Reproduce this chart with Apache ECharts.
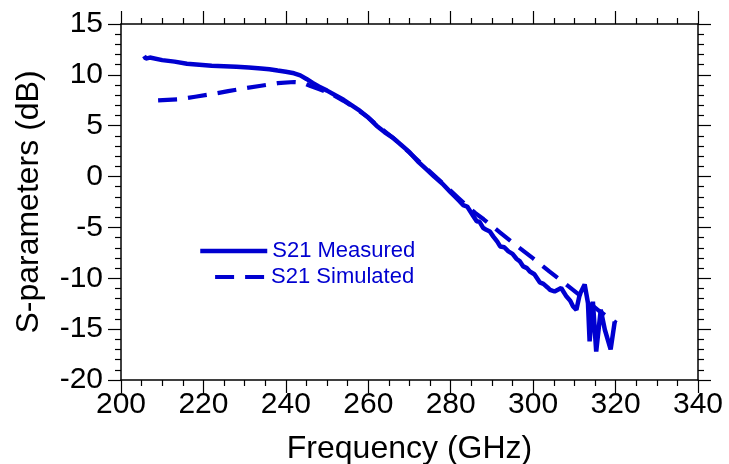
<!DOCTYPE html>
<html>
<head>
<meta charset="utf-8">
<script src="https://cdn.jsdelivr.net/npm/echarts@6/dist/echarts.min.js"></script>
<style>html,body{margin:0;padding:0;background:#fff;}#c{width:729px;height:464px;}</style>
</head>
<body>
<div id="c"></div>
<script>
var xTicks = [200, 220, 240, 260, 280, 300, 320, 340];
var yTicks = [-20, -15, -10, -5, 0, 5, 10, 15];

var measuredFreq = [205.6, 206.0, 207, 210, 213, 216, 219, 222, 225, 228, 231, 234, 236, 238, 240, 242, 243.5, 245, 246.5, 248, 250, 252, 254, 256, 258, 260, 262, 264, 266, 268, 270, 272, 274, 276, 278, 280, 281, 282.2, 283, 284, 285.5, 286.3, 287, 287.9, 288.5, 289.5, 290.3, 291.3, 292, 293, 294, 295, 296, 296.8, 297.6, 298.5, 299.2, 300.3, 301.6, 302.5, 303.5, 304.1, 305.2, 306.8, 308.1, 309, 309.7, 310.5, 311.3, 312.5, 313.3, 313.7, 314.5, 315.3, 316.4, 317.4, 318.8, 319.8];
var measuredS21 = [11.85, 11.6, 11.7, 11.45, 11.3, 11.1, 11.0, 10.9, 10.85, 10.8, 10.72, 10.62, 10.55, 10.42, 10.3, 10.15, 9.95, 9.6, 9.2, 8.85, 8.45, 8.0, 7.55, 7.0, 6.45, 5.8, 5.0, 4.35, 3.8, 3.1, 2.4, 1.5, 0.75, 0.0, -0.7, -1.55, -1.95, -2.44, -2.8, -2.95, -3.9, -4.4, -4.45, -5.06, -5.2, -5.4, -5.88, -6.4, -6.87, -6.95, -7.36, -7.6, -8.1, -8.34, -8.83, -9.0, -9.33, -9.6, -10.4, -10.55, -10.9, -11.13, -11.3, -10.96, -11.8, -12.2, -12.77, -13.1, -11.6, -10.6, -12.43, -16.2, -12.3, -17.2, -13.1, -15.06, -17.0, -14.25];

var simulatedFreq = [209, 214, 218, 222, 226, 230, 234, 238, 242, 244, 246, 248, 250, 252, 254, 256, 258, 260, 262, 264, 266, 268, 270, 272, 274, 276, 278, 280, 282, 284, 286, 288, 292, 296, 300, 304, 308, 312, 316, 320.2];
var simulatedS21 = [7.5, 7.6, 7.85, 8.1, 8.4, 8.68, 8.93, 9.18, 9.3, 9.25, 8.9, 8.6, 8.3, 7.9, 7.45, 6.95, 6.4, 5.8, 5.1, 4.45, 3.8, 3.1, 2.35, 1.6, 0.85, 0.1, -0.65, -1.4, -2.15, -2.9, -3.6, -4.2, -5.5, -6.8, -8.05, -9.35, -10.6, -11.9, -13.2, -14.4];

function zip(a, b) { return a.map(function (v, i) { return [v, b[i]]; }); }

var BLUE = '#0000d0';
var FONT = '"Liberation Sans", Arial, sans-serif';

var axisCommon = {
  axisLine: { show: true, onZero: false, lineStyle: { color: '#000', width: 1.5 } },
  axisTick: { show: true, inside: false, length: 13, lineStyle: { color: '#000', width: 1.2 } },
  splitLine: { show: false },
  minorSplitLine: { show: false }
};

function xAxisDef(pos, labels) {
  return Object.assign({}, JSON.parse(JSON.stringify(axisCommon)), {
    type: 'value', position: pos, min: xTicks[0], max: xTicks[xTicks.length - 1], interval: 20,
    minorTick: { show: true, splitNumber: 4, length: 6, lineStyle: { color: '#000', width: 1.2 } },
    axisLabel: { show: labels, margin: 10, color: '#000', fontSize: 30, fontFamily: FONT },
    name: labels ? 'Frequency (GHz)' : '', nameLocation: 'middle', nameGap: 53,
    nameTextStyle: { color: '#000', fontSize: 32, fontFamily: FONT }
  });
}
function yAxisDef(pos, labels) {
  return Object.assign({}, JSON.parse(JSON.stringify(axisCommon)), {
    type: 'value', position: pos, min: yTicks[0], max: yTicks[yTicks.length - 1], interval: 5,
    minorTick: { show: true, splitNumber: 5, length: 6, lineStyle: { color: '#000', width: 1.2 } },
    axisLabel: { show: labels, margin: 18, color: '#000', fontSize: 30, fontFamily: FONT },
    name: labels ? 'S-parameters (dB)' : '', nameLocation: 'middle', nameGap: 76,
    nameTextStyle: { color: '#000', fontSize: 32, fontFamily: FONT }
  });
}

var legendCommon = {
  orient: 'vertical', padding: 0, itemHeight: 14,
  itemStyle: { opacity: 0 },
  lineStyle: { width: 4.5, color: BLUE },
  textStyle: { color: BLUE, fontSize: 22, fontFamily: FONT }
};

var chart = echarts.init(document.getElementById('c'), null, { renderer: 'canvas' });
chart.setOption({
  animation: false,
  backgroundColor: '#fff',
  grid: { left: 121, right: 31, top: 24, bottom: 84, containLabel: false, outerBoundsMode: 'none' },
  xAxis: [xAxisDef('bottom', true), xAxisDef('top', false)],
  yAxis: [yAxisDef('left', true), yAxisDef('right', false)],
  legend: [
    Object.assign({}, legendCommon, { data: ['S21 Measured'], left: 198, top: 240, itemWidth: 67 }),
    Object.assign({}, legendCommon, { data: ['S21 Simulated'], left: 213, top: 266, itemWidth: 51,
      lineStyle: { width: 4.2, color: BLUE, type: [19, 11] } })
  ],
  series: [
    { name: 'S21 Measured', type: 'line', xAxisIndex: 0, yAxisIndex: 0, data: zip(measuredFreq, measuredS21),
      symbol: 'none', showSymbol: false, lineStyle: { color: BLUE, width: 4.5 }, itemStyle: { color: BLUE }, z: 3 },
    { name: 'S21 Simulated', type: 'line', xAxisIndex: 0, yAxisIndex: 0, data: zip(simulatedFreq, simulatedS21),
      symbol: 'none', showSymbol: false, lineStyle: { color: BLUE, width: 4.2, type: [19, 11] }, itemStyle: { color: BLUE }, z: 2 }
  ]
});
</script>
</body>
</html>
